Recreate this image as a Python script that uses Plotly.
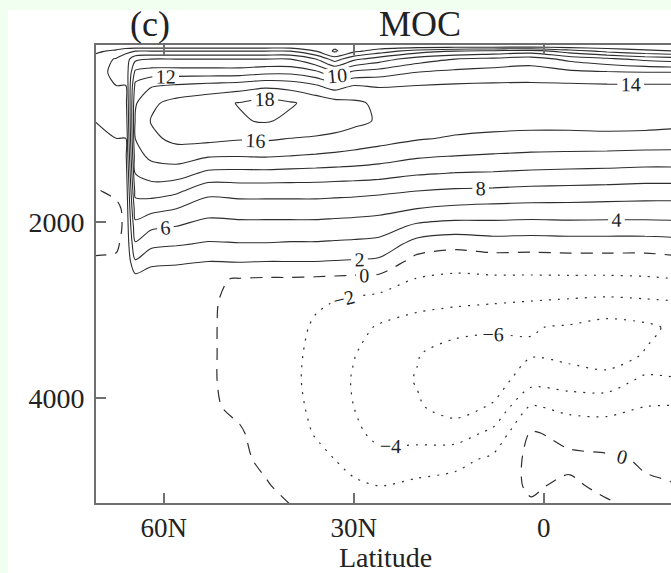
import numpy as np
import plotly.graph_objects as go

# Latitude of each profile column (deg N, south negative), north -> south
LAT = [71, 67.5, 66, 64.5, 62, 58, 53, 48, 44, 40, 36, 33, 30, 26, 20, 14, 8, 2, -4, -10, -16, -21]

# Depth levels (m)
DEPTH = [0, 60, 150, 300, 450, 650, 850, 1050, 1250, 1450, 1650, 1850, 2050,
         2250, 2450, 2650, 2900, 3200, 3500, 3800, 4100, 4400, 4700, 5000, 5250]

# Meridional overturning streamfunction (Sv), one depth profile per latitude
PSI_BY_LAT = [
    [0.5, 1.5, 2.8, 3.2, 3.0, 2.4, 2.0, 1.6, 1.0, 0.4, -0.1, -0.3, -0.3, -0.2, 0.1, 0.2, 0.2, 0.2, 0.2, 0.2, 0.2, 0.2, 0.2, 0.2, 0.2],
    [0.5, 2.5, 4.2, 4.5, 4.0, 3.2, 2.6, 2.0, 1.4, 0.8, 0.2, -0.2, -0.3, -0.1, 0.1, 0.2, 0.2, 0.2, 0.2, 0.2, 0.2, 0.2, 0.2, 0.2, 0.2],
    [0.5, 3.5, 5.0, 4.6, 4.0, 3.2, 2.6, 2.0, 1.4, 0.8, 0.4, 0.2, 0.2, 0.2, 0.2, 0.2, 0.2, 0.2, 0.2, 0.2, 0.2, 0.2, 0.2, 0.2, 0.2],
    [0.5, 4.0, 7.5, 10.5, 12.5, 13.8, 14.2, 14.0, 13.2, 12.0, 10.6, 9.0, 7.4, 5.8, 3.8, 1.2, 0.3, 0.3, 0.3, 0.2, 0.2, 0.2, 0.2, 0.2, 0.2],
    [0.5, 4.0, 8.0, 11.0, 13.8, 15.6, 16.1, 15.6, 14.5, 12.8, 11.0, 8.6, 6.4, 4.5, 2.6, 0.6, 0.3, 0.3, 0.3, 0.3, 0.2, 0.2, 0.2, 0.2, 0.2],
    [0.5, 4.0, 8.0, 11.0, 14.2, 16.7, 17.1, 16.5, 15.0, 12.9, 10.4, 8.0, 6.0, 4.2, 2.4, 0.4, 0.3, 0.3, 0.3, 0.3, 0.2, 0.2, 0.2, 0.2, 0.2],
    [0.5, 4.0, 8.0, 11.0, 14.6, 17.4, 17.6, 16.6, 14.2, 11.5, 8.6, 6.8, 5.3, 3.8, 2.0, 0.2, 0.2, 0.2, 0.2, 0.2, 0.15, 0.2, 0.2, 0.2, 0.2],
    [0.5, 4.0, 8.0, 11.0, 15.0, 18.1, 17.8, 16.2, 14.1, 11.4, 8.8, 7.0, 5.4, 3.9, 2.1, -0.1, -0.4, -0.5, -0.5, -0.5, -0.2, 0.1, 0.2, 0.2, 0.2],
    [0.5, 4.0, 8.0, 11.5, 15.5, 18.8, 18.2, 16.3, 14.2, 11.4, 8.8, 7.0, 5.4, 3.9, 2.0, -0.2, -0.8, -1.0, -1.0, -1.0, -0.9, -0.4, -0.2, 0.1, 0.2],
    [0.5, 4.0, 8.0, 11.5, 15.2, 18.2, 17.6, 16.0, 14.0, 11.3, 8.8, 7.0, 5.4, 3.8, 2.0, -0.2, -1.2, -1.5, -1.6, -1.7, -1.6, -1.4, -1.0, -0.3, 0.05],
    [0.5, 2.0, 6.0, 10.5, 14.2, 17.4, 17.3, 15.8, 13.8, 11.2, 8.8, 7.0, 5.4, 3.8, 2.0, -0.3, -1.8, -2.2, -2.4, -2.4, -2.3, -2.1, -1.6, -0.9, -0.3],
    [0.5, -0.3, 3.0, 8.5, 13.0, 16.8, 16.9, 15.6, 13.6, 11.1, 8.7, 6.9, 5.3, 3.7, 1.9, -0.4, -2.0, -2.6, -2.9, -3.0, -2.9, -2.6, -2.0, -1.2, -0.4],
    [0.5, 1.5, 5.5, 10.5, 14.0, 16.4, 16.5, 15.2, 13.4, 11.0, 8.6, 6.8, 5.2, 3.6, 1.8, -0.5, -2.4, -3.4, -3.9, -4.2, -4.0, -3.6, -2.8, -1.6, -0.6],
    [0.5, 3.0, 7.0, 11.0, 13.8, 15.6, 15.8, 14.8, 13.0, 10.8, 8.4, 6.6, 5.0, 3.4, 1.6, -0.6, -2.8, -4.2, -4.9, -5.2, -5.0, -4.5, -3.4, -2.0, -0.8],
    [0.5, 5.0, 9.0, 12.0, 14.0, 15.2, 15.0, 14.2, 12.3, 10.2, 8.0, 6.0, 3.6, 1.2, -0.8, -2.1, -3.4, -4.8, -5.9, -6.1, -5.8, -4.8, -3.0, -1.6, -0.7],
    [0.5, 6.0, 10.0, 12.5, 14.2, 15.2, 14.9, 13.8, 12.0, 9.9, 7.7, 5.6, 3.2, 0.6, -1.2, -2.4, -3.6, -5.4, -6.8, -7.3, -6.8, -5.0, -2.6, -1.3, -0.5],
    [0.5, 6.5, 10.5, 12.8, 14.3, 15.0, 14.7, 13.6, 11.8, 9.8, 7.6, 5.4, 3.3, 1.0, -1.0, -2.3, -3.8, -5.7, -6.9, -7.0, -5.8, -3.5, -1.6, -0.7, -0.2],
    [0.5, 7.0, 11.0, 13.0, 14.3, 15.0, 14.6, 13.5, 11.6, 9.6, 7.4, 5.3, 3.2, 0.9, -1.0, -2.3, -4.0, -5.9, -6.2, -4.8, -1.8, 0.2, 0.5, 0.2, -0.2],
    [0.5, 5.0, 9.5, 12.5, 14.3, 15.0, 14.6, 13.5, 11.5, 9.5, 7.3, 5.3, 3.3, 1.0, -0.9, -2.3, -4.2, -6.2, -6.6, -5.0, -2.6, -0.6, 0.4, -0.3, -0.4],
    [0.5, 3.5, 8.5, 12.2, 14.2, 15.0, 14.6, 13.6, 11.4, 9.4, 7.2, 5.2, 3.3, 1.0, -0.9, -2.3, -4.4, -6.8, -7.2, -5.2, -2.6, -1.0, 0.3, 0.4, -0.3],
    [0.5, 2.5, 7.5, 12.0, 14.2, 15.0, 14.5, 13.6, 11.2, 9.3, 7.0, 5.2, 3.3, 1.0, -0.9, -2.2, -4.2, -6.4, -5.9, -3.5, -2.0, -0.8, -0.2, 0.2, 0.2],
    [0.5, 2.0, 7.0, 12.0, 14.2, 15.0, 14.4, 13.5, 11.2, 9.3, 7.0, 5.2, 3.4, 1.2, -0.6, -2.0, -4.0, -5.6, -5.8, -3.8, -1.9, -0.6, -0.1, 0.0, 0.0],
]

TICK_LAT = [60, 30, 0]
TICK_LAT_TEXT = ["60N", "30N", "0"]
TICK_DEPTH = [2000, 4000]

# grid oriented with latitude increasing along x, depth along y
lat = np.array(LAT)[::-1]
psi = np.array(PSI_BY_LAT).T[:, ::-1]

SERIF = "Liberation Serif"
INK = "#222222"
LINE = "#2e2e2e"
AXIS = "#707070"
label_font = dict(family=SERIF, size=20, color=INK)

fig = go.Figure()
base = dict(x=lat, y=DEPTH, z=psi, showscale=False, hoverinfo="skip")

# positive (clockwise) cell: solid lines
fig.add_trace(go.Contour(
    **base,
    contours=dict(start=2, end=20, size=2, coloring="none",
                  showlabels=True, labelfont=label_font),
    line=dict(color=LINE, width=1.1, smoothing=0.8),
))
# zero line: long dashes
fig.add_trace(go.Contour(
    **base,
    contours=dict(start=0, end=0, size=2, coloring="none",
                  showlabels=True, labelfont=label_font),
    line=dict(color=LINE, width=1.2, dash="12px,9px", smoothing=0.8),
))
# negative (bottom water) cell: dotted lines
fig.add_trace(go.Contour(
    **base,
    contours=dict(start=-8, end=-2, size=2, coloring="none",
                  showlabels=True, labelfont=label_font),
    line=dict(color=LINE, width=1.2, dash="2px,7px", smoothing=0.8),
))

W, H = 671, 573
ML, MR, MT, MB = 96, 0, 45, 70
PW, PH = W - ML - MR, H - MT - MB


def px_x(x):
    return (x - ML) / PW


def px_y(y):
    return (H - MB - y) / PH


def label(text, x, y, size, anchor="middle"):
    return dict(text=text, xref="paper", yref="paper", x=px_x(x), y=px_y(y),
                xanchor="center", yanchor=anchor, showarrow=False,
                font=dict(family=SERIF, size=size, color=INK))


fig.update_layout(
    width=W, height=H,
    margin=dict(l=ML, r=MR, t=MT, b=MB),
    paper_bgcolor="#F0FFF0",
    plot_bgcolor="white",
    showlegend=False,
    xaxis=dict(
        range=[70.7, -20.1], tickvals=TICK_LAT, ticktext=TICK_LAT_TEXT,
        ticks="inside", ticklen=10, tickwidth=1.5, tickcolor=AXIS,
        showline=True, linecolor=AXIS, linewidth=2, mirror="ticks",
        showgrid=False, zeroline=False,
        tickfont=dict(family=SERIF, size=27, color=INK),
    ),
    yaxis=dict(
        range=[5195, -10], tickvals=TICK_DEPTH,
        ticks="inside", ticklen=10, tickwidth=1.5, tickcolor=AXIS,
        showline=True, linecolor=AXIS, linewidth=2, mirror=False,
        showgrid=False, zeroline=False,
        tickfont=dict(family=SERIF, size=28, color=INK),
        ticklabelstandoff=4,
    ),
    shapes=[dict(type="rect", xref="paper", yref="paper",
                 x0=px_x(8), x1=1.02, y0=px_y(H + 5), y1=px_y(10),
                 fillcolor="white", line=dict(width=0), layer="below")],
    annotations=[
        label("(c)", 150, 24, 36),
        label("MOC", 420, 24, 36),
        label("Latitude", 385, 575, 28, anchor="bottom"),
    ],
)

fig.write_html("out.html")
